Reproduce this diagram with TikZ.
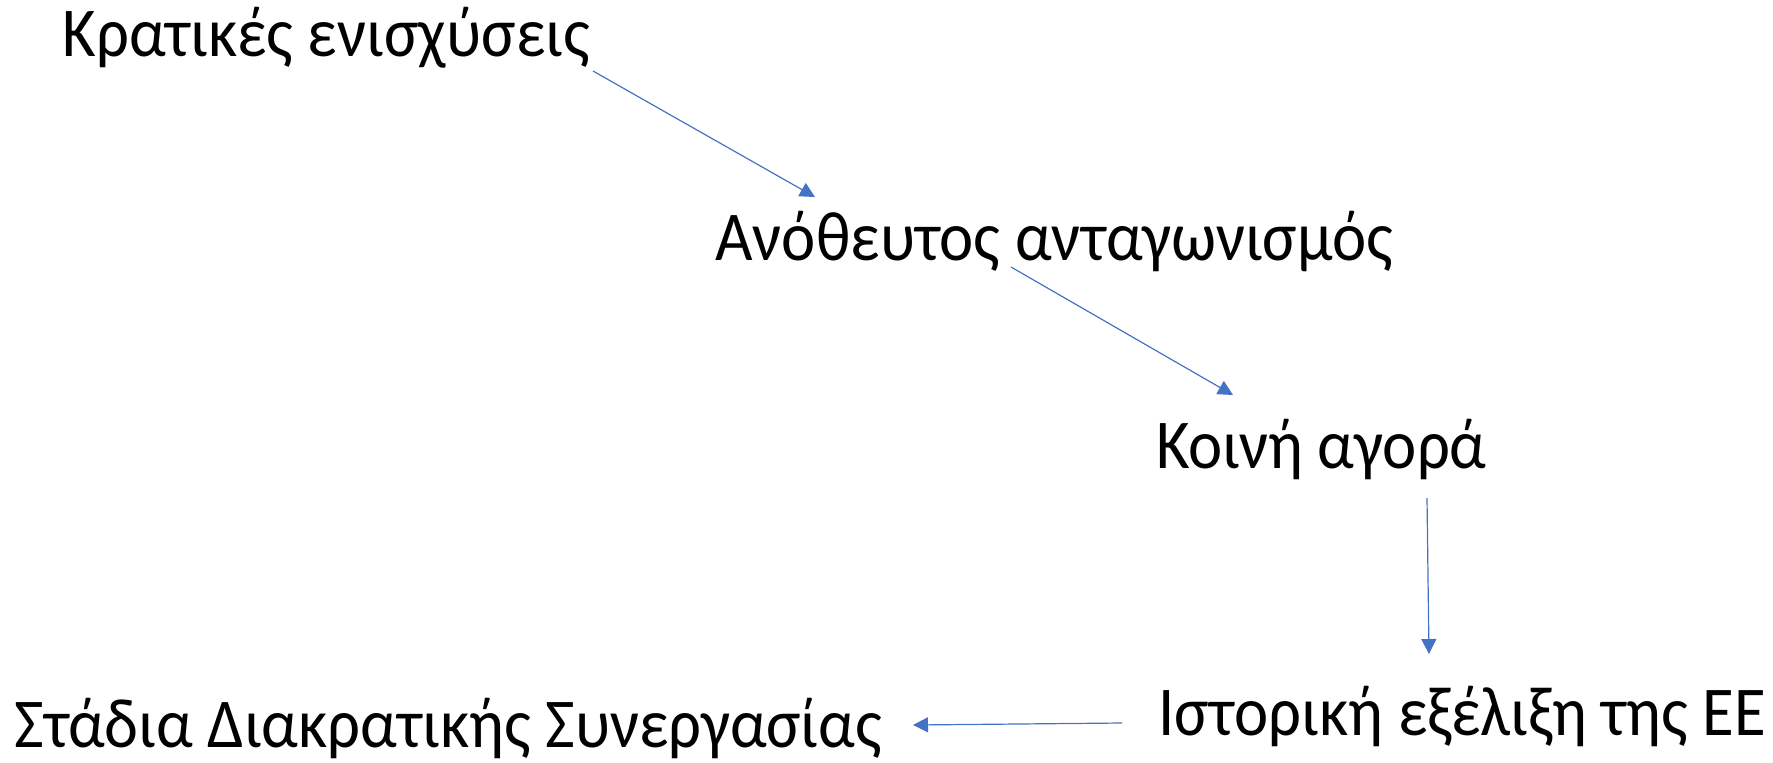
\documentclass[tikz,border=0pt]{standalone}
\usepackage{fontspec}
\setmainfont{Carlito}[FakeStretch=0.925]
\usetikzlibrary{arrows.meta}
\definecolor{arrowblue}{RGB}{68,114,196}
\tikzset{
  lbl/.style={anchor=base west, inner sep=0pt, font=\fontsize{35}{42}\selectfont},
  conn/.style={draw=arrowblue, line width=0.6pt, -{Triangle[length=7.5pt,width=7.5pt]}}
}
\begin{document}
\begin{tikzpicture}[x=0.5pt,y=-0.5pt]
\useasboundingbox (0,0) rectangle (1773,762);
\node[lbl] (kr) at (62,56) {Κρατικές ενισχύσεις};
\node[lbl] (an) at (715,260) {Ανόθευτος ανταγωνισμός};
\node[lbl] (ko) at (1156,468) {Κοινή αγορά};
\node[lbl] (is) at (1158,735) {Ιστορική εξέλιξη της ΕΕ};
\node[lbl] (st) at (14,747) {Στάδια Διακρατικής Συνεργασίας};
\coordinate (a1s) at (593,71);
\coordinate (a1e) at (815,197);
\coordinate (a2s) at (1011,267);
\coordinate (a2e) at (1233,395);
\coordinate (a3s) at (1427,498);
\coordinate (a3e) at (1429,654);
\coordinate (a4s) at (1122,723);
\coordinate (a4e) at (913,725);
\draw[conn] (a1s) -- (a1e);
\draw[conn] (a2s) -- (a2e);
\draw[conn] (a3s) -- (a3e);
\draw[conn] (a4s) -- (a4e);
\end{tikzpicture}
\end{document}
